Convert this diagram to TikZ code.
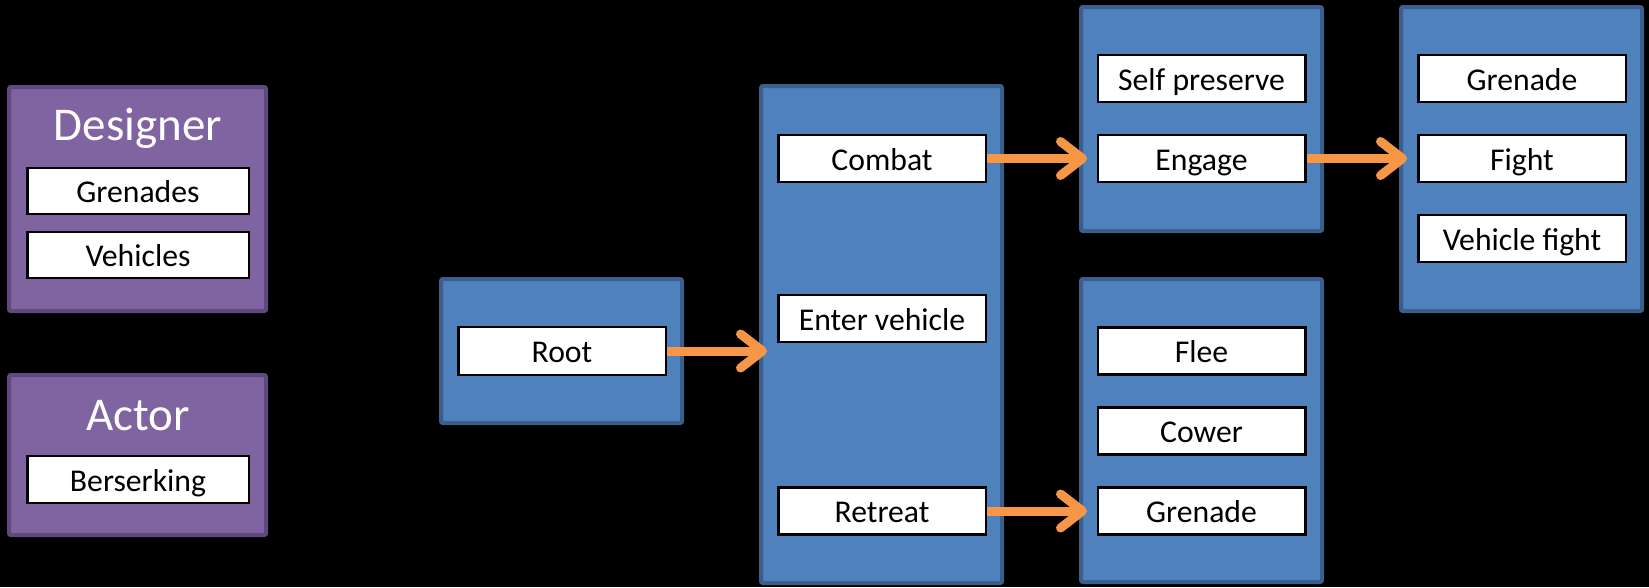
\documentclass[tikz,border=0pt]{standalone}
\usepackage{fontspec}
\setmainfont{Carlito}
\usetikzlibrary{arrows.meta}
\definecolor{grpblue}{HTML}{4F81BD}
\definecolor{grpblueedge}{HTML}{3A5F8C}
\definecolor{grppurple}{HTML}{8064A2}
\definecolor{grppurpleedge}{HTML}{5E4A7E}
\definecolor{flow}{HTML}{F79646}
\tikzset{
  group/.style={draw=grpblueedge, fill=grpblue, line width=4pt, rounded corners=2pt, inner sep=0pt,
    minimum width=241pt},
  pgroup/.style={draw=grppurpleedge, fill=grppurple, line width=4pt, rounded corners=2pt, inner sep=0pt,
    minimum width=257pt},
  task/.style={draw=black, fill=white, line width=2.5pt, inner sep=0pt,
    minimum width=207.5pt, minimum height=47pt, text height=23pt, text depth=0pt,
    font=\fontsize{31.7}{38}\selectfont, text=black},
  ptask/.style={task, minimum width=221.5pt, minimum height=46pt},
  title/.style={font=\fontsize{47}{56}\selectfont, text=white, inner sep=0pt, anchor=base},
  flowarrow/.style={draw=flow, line width=9pt,
    -{Straight Barb[length=22pt, width=34pt, round]}, shorten >=-8pt},
}
\begin{document}
\begin{tikzpicture}[x=1pt, y=-1pt]
  % canvas
  \fill[black] (0,0) rectangle (1649,587);
  \useasboundingbox (0,0) rectangle (1649,587);

  % designer / actor panels
  \node[pgroup, minimum height=224pt] (designer) at (137.5,199) {};
  \node[title] (designerT) at (138,140) {Designer};
  \node[ptask] (grenades) at (138,191) {Grenades};
  \node[ptask] (vehicles) at (138,255) {Vehicles};

  \node[pgroup, minimum height=160pt] (actor) at (137.5,455) {};
  \node[title] (actorT) at (138,430) {Actor};
  \node[ptask, minimum height=47pt] (berserk) at (138,479.5) {Berserking};

  % behaviour tree groups
  \node[group, minimum height=144pt] (rootG) at (561.5,351) {};
  \node[group, minimum height=497pt] (midG) at (881.5,334.5) {};
  \node[group, minimum height=224pt] (engG) at (1201.5,119) {};
  \node[group, minimum height=303pt] (retG) at (1201.5,430.5) {};
  \node[group, minimum height=304pt] (fightG) at (1521.5,159) {};

  % tasks
  \node[task, minimum height=48pt] (root) at (562,351) {Root};

  \node[task] (combat) at (882,158.5) {Combat};
  \node[task] (enter) at (882,318.5) {Enter vehicle};
  \node[task] (retreat) at (882,511) {Retreat};

  \node[task] (selfp) at (1201.5,78.5) {Self preserve};
  \node[task] (engage) at (1201.5,158.5) {Engage};

  \node[task] (flee) at (1201.5,351) {Flee};
  \node[task] (cower) at (1201.5,431) {Cower};
  \node[task] (grenadeB) at (1201.5,511) {Grenade};

  \node[task] (grenadeR) at (1522,78.5) {Grenade};
  \node[task] (fight) at (1522,158.5) {Fight};
  \node[task] (vfight) at (1522,238.5) {Vehicle fight};

  % flow arrows
  \draw[flowarrow] (root.east) -- (root.east -| midG.west);
  \draw[flowarrow] (combat.east) -- (combat.east -| engG.west);
  \draw[flowarrow] (retreat.east) -- (retreat.east -| retG.west);
  \draw[flowarrow] (engage.east) -- (engage.east -| fightG.west);
\end{tikzpicture}
\end{document}
